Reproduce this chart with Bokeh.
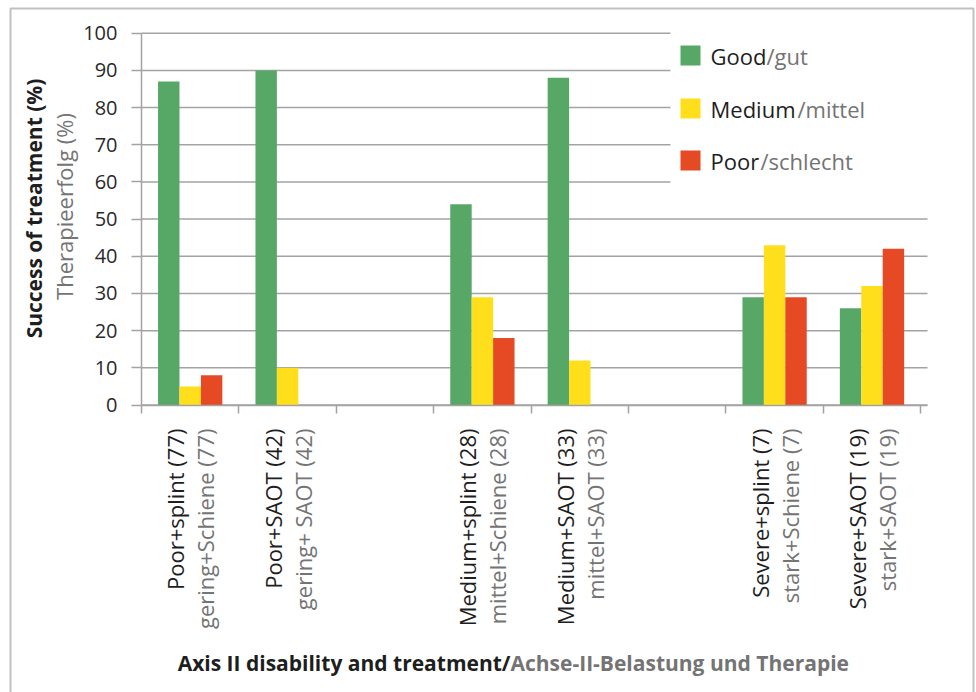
import math
from bokeh.plotting import figure
from bokeh.models import (Range1d, FixedTicker, ColumnDataSource, LabelSet, Label,
                          BoxAnnotation)
from bokeh.core.properties import value
from bokeh.transform import dodge
from bokeh.embed import file_html
from bokeh.resources import INLINE

# --- data ------------------------------------------------------------------
groups_en = ["Poor+splint (77)", "Poor+SAOT (42)", "Medium+splint (28)",
             "Medium+SAOT (33)", "Severe+splint (7)", "Severe+SAOT (19)"]
groups_de = ["gering+Schiene (77)", "gering+ SAOT (42)", "mittel+Schiene (28)",
             "mittel+SAOT (33)", "stark+Schiene (7)", "stark+SAOT (19)"]
good = [87, 90, 54, 88, 29, 26]
medium = [5, 10, 29, 12, 43, 32]
poor = [8, 0, 18, 0, 29, 42]
series_en = ["Good", "Medium", "Poor"]
series_de = ["gut", "mittel", "schlecht"]
y_ticks = list(range(0, 101, 10))

# --- styling ---------------------------------------------------------------
FONT = "Open Sans"
BLACK = "#1e1e1e"
GREY = "#747474"
GRID = "#a3a3a3"
COLORS = ["#57a866", "#ffdf1c", "#e64a24"]

W, H = 976, 692
# plot geometry in canvas pixels: origin of the value axes and scale
X0_PX, SLOT_PX = 141.0, 97.4
Y0_PX, UNIT_PX = 404.5, 3.718

# pairs of groups separated by an empty slot on the category axis
slots = [i + i // 2 for i in range(len(groups_en))]
n_slots = slots[-1] + 1
x_end = n_slots + 0.07
centers = [s + 0.5 for s in slots]

src = ColumnDataSource(dict(x=centers, good=good, medium=medium, poor=poor,
                            en=groups_en, de=groups_de))

# the frame fills the whole canvas; axes are pinned at the value origin
p = figure(width=W, height=H, output_backend="svg", toolbar_location=None,
           x_range=Range1d(-X0_PX / SLOT_PX, (W - X0_PX) / SLOT_PX),
           y_range=Range1d(-(H - Y0_PX) / UNIT_PX, Y0_PX / UNIT_PX),
           min_border=0)
p.outline_line_color = None
p.background_fill_color = "white"
p.border_fill_color = "white"
p.xgrid.visible = False
p.ygrid.visible = False

# horizontal grid lines at the y ticks
p.segment(x0=0, x1=x_end, y0=y_ticks, y1=y_ticks, line_color=GRID,
          line_width=1.5, level="underlay")

# bars, three per group
bw = 0.22
for field, off, col in zip(["good", "medium", "poor"], [-bw, 0, bw], COLORS):
    p.vbar(x=dodge("x", off), top=field, width=bw, bottom=0, source=src,
           fill_color=col, line_color=None)

# axes
xa = p.xaxis[0]
xa.fixed_location = 0
xa.bounds = (0, x_end)
xa.ticker = FixedTicker(ticks=[], minor_ticks=list(range(n_slots + 1)))
xa.major_tick_line_color = None
xa.minor_tick_out = 8
xa.minor_tick_in = 0
xa.minor_tick_line_color = GRID
xa.minor_tick_line_width = 1.5
xa.axis_line_color = GRID
xa.axis_line_width = 1.5

ya = p.yaxis[0]
ya.fixed_location = 0
ya.bounds = (0, 100)
ya.ticker = FixedTicker(ticks=y_ticks)
ya.major_tick_out = 10
ya.major_tick_in = 0
ya.minor_tick_line_color = None
ya.axis_line_color = GRID
ya.axis_line_width = 1.5
ya.major_tick_line_color = GRID
ya.major_tick_line_width = 1.5
ya.major_label_text_font = FONT
ya.major_label_text_font_size = "20px"
ya.major_label_text_color = "#2a2a2a"
ya.major_label_standoff = 14

# category labels, two rotated lines per group
for text_field, off, col in [("en", -15, BLACK), ("de", 15, GREY)]:
    p.add_layout(LabelSet(x="x", y=428, x_units="data", y_units="canvas",
                          text=text_field, source=src, x_offset=off,
                          angle=math.pi / 2, text_align="right",
                          text_baseline="middle", text_font=value(FONT),
                          text_font_size=value("22px"), text_color=value(col)))

# legend panel
p.add_layout(BoxAnnotation(left=670, right=935, top=26, bottom=200,
                           left_units="canvas", right_units="canvas",
                           top_units="canvas", bottom_units="canvas",
                           fill_color="white", fill_alpha=1, line_color=None))
leg_y = [55, 108, 160]
slash_x = [766, 797, 760]
for en, de, col, cy, sx in zip(series_en, series_de, COLORS, leg_y, slash_x):
    p.add_layout(BoxAnnotation(left=680, right=700, top=cy - 10, bottom=cy + 10,
                               left_units="canvas", right_units="canvas",
                               top_units="canvas", bottom_units="canvas",
                               fill_color=col, fill_alpha=1, line_color=None))
    p.add_layout(Label(x=710, y=cy, x_units="canvas", y_units="canvas", text=en,
                       text_font=FONT, text_font_size="22px", text_color=BLACK,
                       text_baseline="middle", text_align="left"))
    p.add_layout(Label(x=sx, y=cy, x_units="canvas", y_units="canvas",
                       text="/" + de, text_font=FONT, text_font_size="22px",
                       text_color=GREY, text_baseline="middle", text_align="left"))

# y axis title (two lines)
p.add_layout(Label(x=33, y=208, x_units="canvas", y_units="canvas",
                   text="Success of treatment (%)", angle=math.pi / 2,
                   text_align="center", text_baseline="middle", text_font=FONT,
                   text_font_size="21px", text_font_style="bold", text_color=BLACK))
p.add_layout(Label(x=63, y=206, x_units="canvas", y_units="canvas",
                   text="Therapieerfolg (%)", angle=math.pi / 2,
                   text_align="center", text_baseline="middle", text_font=FONT,
                   text_font_size="22px", text_color=GREY))

# x axis title (English / German)
p.add_layout(Label(x=510, y=662, x_units="canvas", y_units="canvas",
                   text="Axis II disability and treatment/", text_align="right",
                   text_baseline="middle", text_font=FONT, text_font_size="21px",
                   text_font_style="bold", text_color=BLACK))
p.add_layout(Label(x=510, y=662, x_units="canvas", y_units="canvas",
                   text="Achse-II-Belastung und Therapie", text_align="left",
                   text_baseline="middle", text_font=FONT, text_font_size="21px",
                   text_font_style="bold", text_color=GREY))

# frame around the whole figure
p.add_layout(BoxAnnotation(left=10, right=973, top=8, bottom=700,
                           left_units="canvas", right_units="canvas",
                           top_units="canvas", bottom_units="canvas",
                           fill_alpha=0, line_color="#333333", line_width=2))

open("out.html", "w").write(file_html(p, INLINE))
